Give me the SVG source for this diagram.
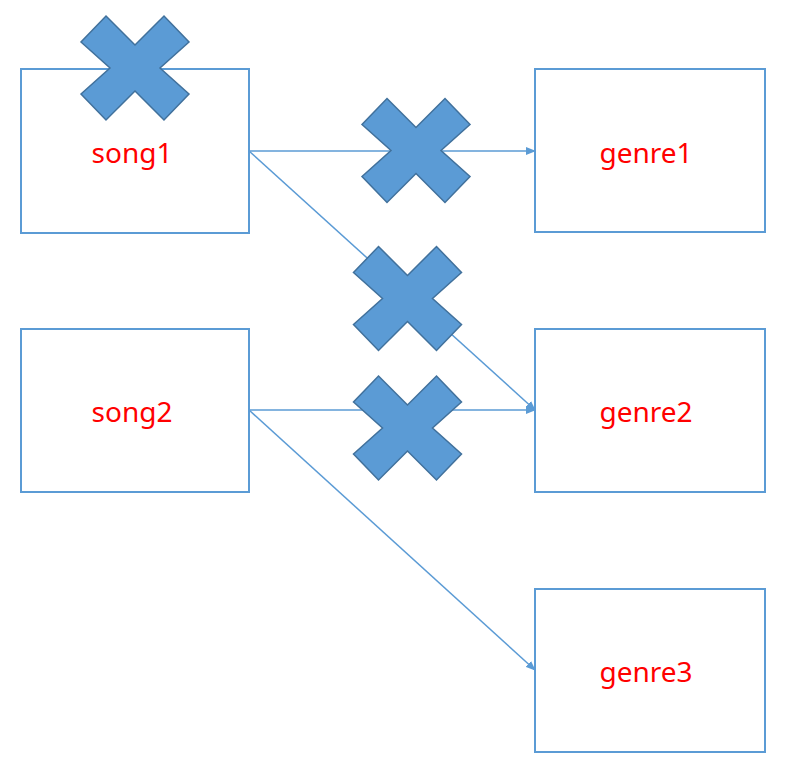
<svg xmlns="http://www.w3.org/2000/svg" width="796" height="784" viewBox="0 0 796 784">
<defs>
<style>
.box{fill:#ffffff;stroke:#5B9BD5;stroke-width:2}
.lbl{font-family:"Noto Sans","Open Sans",sans-serif;font-size:28px;fill:#FF0000;text-anchor:middle}
.conn{stroke:#5B9BD5;stroke-width:1.5;fill:none;marker-end:url(#arr)}
.cross{fill:#5B9BD5;stroke:#41719C;stroke-width:1.5;stroke-linejoin:miter}
</style>
<marker id="arr" markerWidth="10" markerHeight="8" refX="9" refY="4" orient="auto" markerUnits="userSpaceOnUse">
<path d="M0,0 L10,4 L0,8 Z" fill="#5B9BD5"/>
</marker>
<polygon id="x" points="-29,-52 0,-23 29,-52 54,-26 25,0 54,26 29,52 0,23 -29,52 -54,26 -25,0 -54,-26"/>
</defs>
<rect width="796" height="784" fill="#ffffff"/>
<g id="song1"><rect class="box" x="21" y="69" width="228" height="164"/><text class="lbl" x="132" y="163">song1</text></g>
<g id="song2"><rect class="box" x="21" y="329" width="228" height="163"/><text class="lbl" x="132" y="422">song2</text></g>
<g id="genre1"><rect class="box" x="535" y="69" width="230" height="163"/><text class="lbl" x="646" y="163">genre1</text></g>
<g id="genre2"><rect class="box" x="535" y="329" width="230" height="163"/><text class="lbl" x="646" y="422">genre2</text></g>
<g id="genre3"><rect class="box" x="535" y="589" width="230" height="163"/><text class="lbl" x="646" y="682">genre3</text></g>
<g id="connectors">
<line class="conn" x1="249" y1="151" x2="535" y2="151"/>
<line class="conn" x1="249" y1="151" x2="535" y2="410"/>
<line class="conn" x1="249" y1="410" x2="535" y2="410"/>
<line class="conn" x1="249" y1="410" x2="535" y2="670"/>
</g>
<g id="crosses">
<use href="#x" class="cross" transform="translate(135,68)"/>
<use href="#x" class="cross" transform="translate(416,150.5)"/>
<use href="#x" class="cross" transform="translate(407.5,298.5)"/>
<use href="#x" class="cross" transform="translate(407.5,428)"/>
</g>
</svg>
